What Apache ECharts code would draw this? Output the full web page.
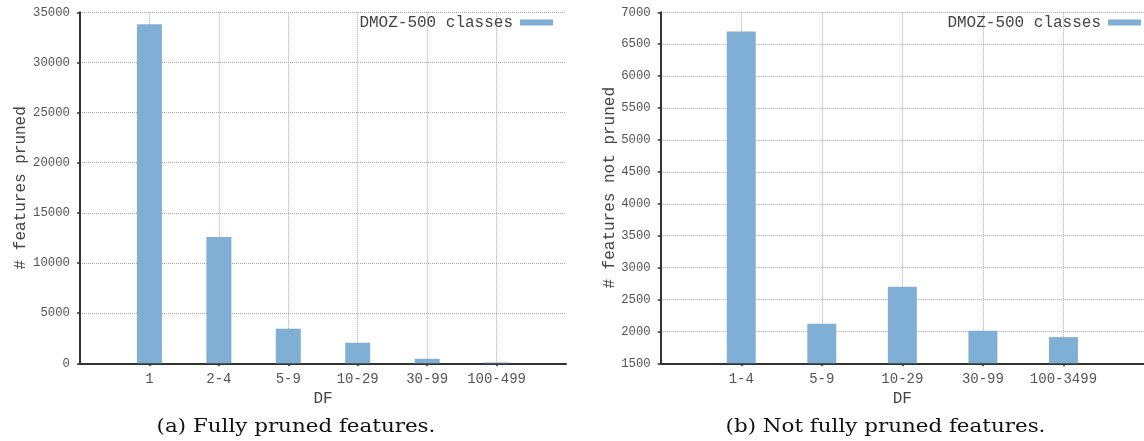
<!DOCTYPE html>
<html>
<head>
<meta charset="utf-8">
<script src="https://cdn.jsdelivr.net/npm/echarts@6/dist/echarts.min.js"></script>
<style>
  html, body { margin: 0; padding: 0; background: #fff; }
  #chart { width: 1144px; height: 441px; }
</style>
</head>
<body>
<div id="chart"></div>
<script>
// Panel (a): features fully pruned, per document-frequency bucket
const prunedCategories = ['1', '2-4', '5-9', '10-29', '30-99', '100-499'];
const prunedValues = [33800, 12600, 3450, 2050, 450, 80];

// Panel (b): features not fully pruned, per document-frequency bucket
const notPrunedCategories = ['1-4', '5-9', '10-29', '30-99', '100-3499'];
const notPrunedValues = [6700, 2120, 2700, 2010, 1910];

const seriesName = 'DMOZ-500 classes';
const captions = ['(a) Fully pruned features.', '(b) Not fully pruned features.'];

const MONO = '"Liberation Mono", "DejaVu Sans Mono", monospace';
const SERIF = '"DejaVu Serif", serif';
const BAR = '#80afd6';

// Pad each category list with an empty slot on both ends so the buckets
// sit one full step in from the axis ends.
function padded(list) { return [''].concat(list, ['']); }
function paddedValues(list) { return [null].concat(list, [null]); }
const notBlank = (i, v) => v !== '';

function xAxis(gridIndex, cats) {
  return {
    type: 'category', gridIndex, data: padded(cats), boundaryGap: false,
    name: 'DF', nameLocation: 'middle', nameGap: 25,
    nameTextStyle: { fontFamily: MONO, fontSize: 16, color: '#444' },
    axisLine: { lineStyle: { color: '#333', width: 2 } },
    axisTick: { show: true, length: 3, interval: notBlank, lineStyle: { color: '#333', width: 1.5 } },
    axisLabel: { interval: notBlank, margin: 9, fontFamily: MONO, fontSize: 14, color: '#555' },
    splitLine: { show: true, interval: notBlank, lineStyle: { color: '#a8a8a8', type: [1, 1], width: 1 } }
  };
}

function yAxis(gridIndex, name, min, max, interval, gap) {
  return {
    type: 'value', gridIndex, min, max, interval,
    name, nameLocation: 'middle', nameGap: gap, nameRotate: 90,
    nameTextStyle: { fontFamily: MONO, fontSize: 16, color: '#444' },
    axisLine: { show: true, lineStyle: { color: '#333', width: 2 } },
    axisTick: { show: true, length: 3, lineStyle: { color: '#333', width: 1.5 } },
    axisLabel: { margin: 10, fontFamily: MONO, fontSize: 12.3, color: '#555',
      formatter: v => String(v) },
    splitLine: { show: true, lineStyle: { color: '#a8a8a8', type: [1, 1], width: 1 } }
  };
}

function legend(right) {
  return {
    data: [seriesName], right, top: 14.5, padding: 0, align: 'right',
    icon: 'rect', itemWidth: 33, itemHeight: 6, selectedMode: false,
    textStyle: { fontFamily: MONO, fontSize: 16, color: '#444', padding: [0, 2, 0, 0] }
  };
}

// Captions are centred on x; scaling is about the element's own origin.
function caption(text, x) {
  return { type: 'text', x, y: 436, scaleX: 1.19, originX: 0,
    style: { text, fontFamily: SERIF, fontSize: 18, fill: '#111', align: 'center', verticalAlign: 'bottom' } };
}

const chart = echarts.init(document.getElementById('chart'), null, { renderer: 'canvas' });
chart.setOption({
  animation: false,
  backgroundColor: '#fff',
  grid: [
    { left: 80, top: 12.3, width: 486, height: 351 },
    { left: 660.7, top: 12.3, width: 492, height: 351 }
  ],
  legend: [legend(591), legend(3)],
  xAxis: [xAxis(0, prunedCategories), xAxis(1, notPrunedCategories)],
  yAxis: [
    yAxis(0, '# features pruned', 0, 35000, 5000, 49.5),
    yAxis(1, '# features not pruned', 1500, 7000, 500, 42.7)
  ],
  series: [
    { name: seriesName, type: 'bar', xAxisIndex: 0, yAxisIndex: 0, barWidth: 25,
      itemStyle: { color: BAR }, data: paddedValues(prunedValues) },
    { name: seriesName, type: 'bar', xAxisIndex: 1, yAxisIndex: 1, barWidth: 29,
      itemStyle: { color: BAR }, data: paddedValues(notPrunedValues) }
  ],
  graphic: [caption(captions[0], 296), caption(captions[1], 885.5)]
});
</script>
</body>
</html>
